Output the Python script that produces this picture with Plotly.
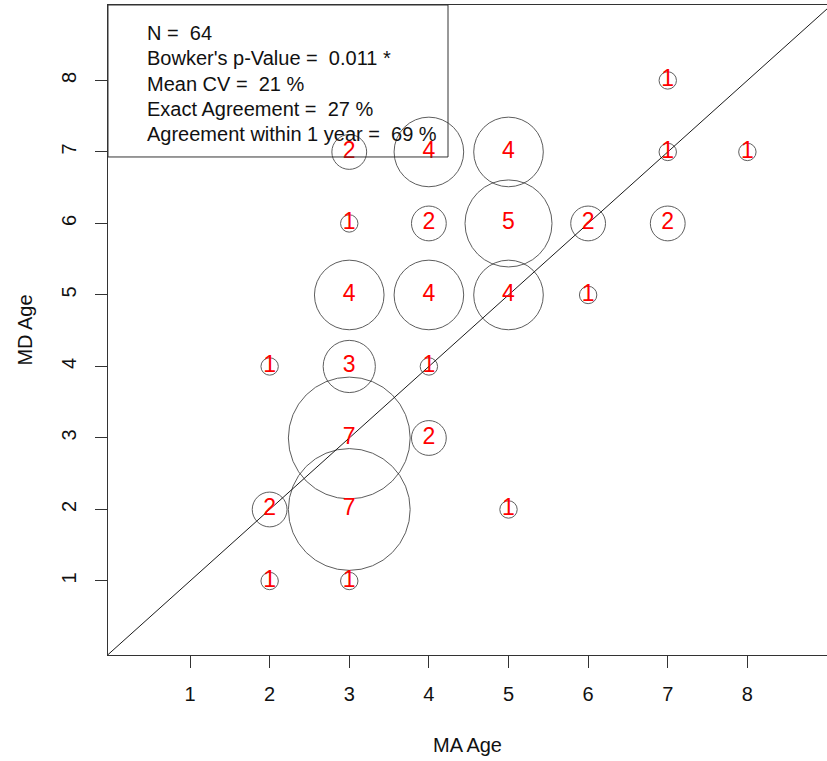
import plotly.graph_objects as go

# Age readings: MA reader (x) vs MD reader (y), with number of fish at each pair
ma_age = [7, 3, 4, 5, 7, 8, 3, 4, 5, 6, 7, 3, 4, 5, 6, 2, 3, 4, 3, 4, 2, 3, 5, 2, 3]
md_age = [8, 7, 7, 7, 7, 7, 6, 6, 6, 6, 6, 5, 5, 5, 5, 4, 4, 4, 3, 3, 2, 2, 2, 1, 1]
counts = [1, 2, 4, 4, 1, 1, 1, 2, 5, 2, 2, 4, 4, 4, 1, 1, 3, 1, 7, 2, 2, 7, 1, 1, 1]

tick_vals = [1, 2, 3, 4, 5, 6, 7, 8]

stats_lines = [
    "N =  64",
    "Bowker's p-Value =  0.011 *",
    "Mean CV =  21 %",
    "Exact Agreement =  27 %",
    "Agreement within 1 year =  69 %",
]

FONT = "Liberation Sans, Arial, sans-serif"
AXIS_COL = "#333333"
X_RANGE = [-0.03, 9.0]
Y_RANGE = [-0.035, 9.055]

fig = go.Figure()

# circles: radius grows linearly with the count
fig.add_trace(go.Scatter(
    x=ma_age, y=md_age, mode="markers",
    marker=dict(size=counts, sizemode="diameter", sizeref=1 / 17.4,
                color="rgba(0,0,0,0)", line=dict(color="#1a1a1a", width=1)),
    hoverinfo="skip", showlegend=False,
))

# 1:1 agreement line
fig.add_trace(go.Scatter(
    x=[-1, 10], y=[-1, 10], mode="lines",
    line=dict(color="#1a1a1a", width=1),
    hoverinfo="skip", showlegend=False,
))

# count labels
fig.add_trace(go.Scatter(
    x=ma_age, y=md_age, mode="text",
    text=[str(c) for c in counts],
    textposition="middle center",
    textfont=dict(family=FONT, size=23, color="#ff0000"),
    hoverinfo="skip", showlegend=False,
))

# statistics box in the upper-left corner
box_right, box_bottom = 0.4729, 0.7662
fig.add_shape(type="rect", xref="paper", yref="paper",
              x0=0, x1=box_right, y0=box_bottom, y1=1,
              line=dict(color=AXIS_COL, width=1), fillcolor="rgba(0,0,0,0)")

line_px = [33, 58.3, 83.6, 109, 134.3]
for txt, py in zip(stats_lines, line_px):
    fig.add_annotation(
        xref="paper", yref="paper", x=0.0515, y=1 - (py - 5) / 650,
        xanchor="left", yanchor="middle", text=txt, showarrow=False,
        font=dict(family=FONT, size=20, color="#111111"),
    )

axis_common = dict(
    tickvals=tick_vals, ticktext=[str(v) for v in tick_vals],
    ticks="outside", ticklen=12, tickwidth=1, tickcolor=AXIS_COL,
    showline=True, linecolor=AXIS_COL, linewidth=1,
    showgrid=False, zeroline=False,
    tickfont=dict(family=FONT, size=20, color="#111111"),
)

fig.update_layout(
    width=827, height=761,
    margin=dict(l=108, r=0, t=5, b=106),
    paper_bgcolor="white", plot_bgcolor="white",
    xaxis=dict(range=X_RANGE, mirror=True, ticklabelstandoff=9,
               title=dict(text="MA Age", font=dict(family=FONT, size=20, color="#111111"),
                          standoff=33),
               **axis_common),
    yaxis=dict(range=Y_RANGE, tickangle=-90, ticklabelstandoff=11,
               title=dict(text="MD Age", font=dict(family=FONT, size=20, color="#111111"),
                          standoff=20),
               **axis_common),
)

fig.write_html("out.html")
